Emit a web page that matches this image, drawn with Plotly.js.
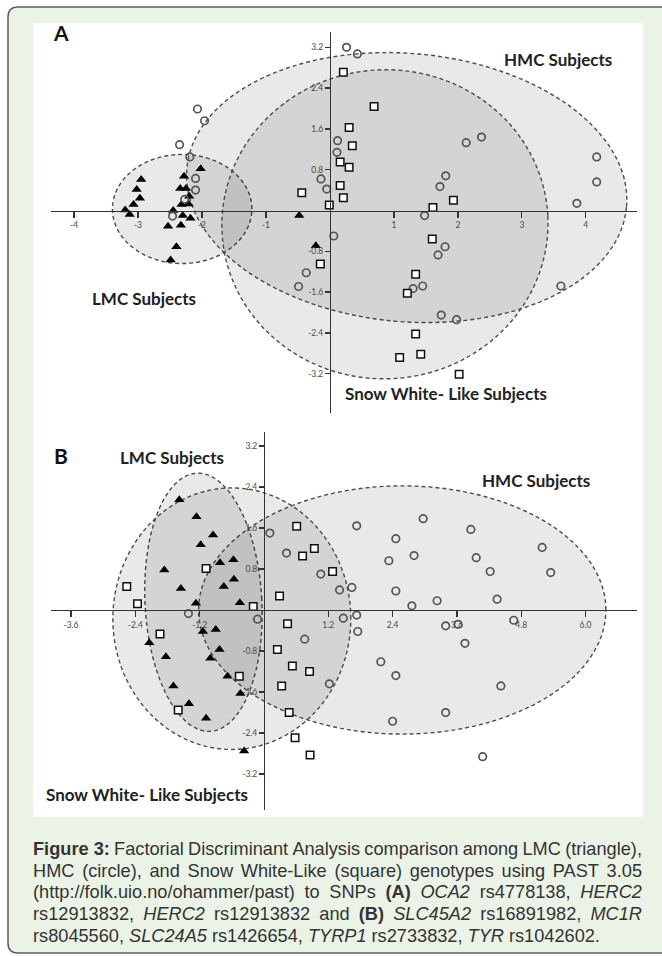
<!DOCTYPE html>
<html><head><meta charset="utf-8">
<script src="https://cdn.plot.ly/plotly-3.0.1.min.js"></script>
<style>
html,body{margin:0;padding:0;background:#fff;}
#wrap{position:relative;width:662px;height:956px;overflow:hidden;}
#chart{position:absolute;left:0;top:0;width:662px;height:956px;}
#cap{position:absolute;left:33px;top:839px;width:609px;font-family:"Liberation Sans",Arial,sans-serif;font-size:18.2px;line-height:21.7px;color:#333;}
#cap .ln{display:flex;justify-content:space-between;column-gap:3px;white-space:nowrap;}
#cap .ln.last{justify-content:flex-start;column-gap:5px;}
</style></head>
<body><div id="wrap"><div id="chart"></div><div id="cap"></div></div>
<script>
// ---------- Panel A data (OCA2/HERC2 SNPs) ----------
const aLmcX = [-2.95,-3.02,-2.97,-3.07,-3.20,-3.13,-2.02,-2.28,-2.34,-2.25,-2.20,-2.32,-2.21,-2.45,-2.30,-2.18,-2.53,-2.33,-2.40,-2.49,-0.48,-0.22];
const aLmcY = [0.61,0.41,0.24,0.12,0.01,-0.08,0.82,0.67,0.43,0.43,0.28,0.12,0.13,0.00,-0.10,-0.15,-0.31,-0.29,-0.71,-0.97,-0.10,-0.69];
const aHmcX = [0.26,0.43,0.12,0.11,-0.14,-0.05,2.13,2.37,1.81,1.72,4.17,4.17,3.86,1.48,0.06,1.80,1.69,-0.37,1.30,1.45,3.61,1.74,1.98,-0.49,-2.07,-1.96,-2.35,-2.19,-2.10,-2.10,-2.46,-2.27];
const aHmcY = [3.20,3.07,1.37,1.14,0.62,0.42,1.33,1.44,0.68,0.47,1.05,0.56,0.14,-0.10,-0.50,-0.71,-0.87,-1.22,-1.53,-1.48,-1.48,-2.05,-2.14,-1.49,1.99,1.76,1.29,1.05,0.63,0.40,-0.11,0.22];
const aSwX = [0.21,0.69,0.30,0.35,0.16,0.30,0.16,0.21,-0.01,1.61,1.93,1.60,-0.15,1.34,1.21,1.34,1.09,1.42,2.02,-0.44];
const aSwY = [2.71,2.04,1.63,1.27,0.95,0.85,0.49,0.25,0.11,0.06,0.20,-0.56,-1.05,-1.25,-1.62,-2.42,-2.88,-2.82,-3.21,0.35];

// ---------- Panel B data ----------
const bLmcX = [-1.58,-1.26,-0.95,-1.18,-1.86,-0.82,-0.57,-1.55,-0.75,-0.56,-1.27,-0.45,-1.14,-0.90,-2.14,-1.83,-0.83,-1.00,-0.68,-1.69,-0.44,-1.40,-1.08,-0.37];
const bLmcY = [2.15,1.82,1.46,1.27,0.78,0.92,0.98,0.42,0.46,0.60,0.13,0.14,-0.42,-0.38,-0.64,-0.91,-0.77,-0.94,-1.29,-1.48,-1.63,-1.83,-2.11,-2.75];
const bHmcX = [0.11,0.42,1.06,1.41,1.64,1.73,1.48,1.73,1.75,0.76,1.22,-1.41,-0.12,2.46,2.97,2.33,2.80,2.46,2.76,3.23,3.39,3.86,3.96,4.22,4.35,4.66,5.19,5.35,3.75,2.18,2.46,4.42,3.39,2.40,4.08,3.62];
const bHmcY = [1.50,1.11,0.70,0.39,0.44,1.64,-0.16,-0.10,-0.42,-0.57,-1.44,-0.07,-0.18,1.39,1.78,0.96,1.06,0.37,0.08,0.18,-0.31,1.57,1.02,0.75,0.21,-0.20,1.22,0.73,-0.65,-1.01,-1.28,-1.48,-2.00,-2.17,-2.86,-0.28];
const bSwX = [0.61,0.72,0.94,1.28,0.29,-1.08,-2.56,-2.36,-0.20,0.44,-1.94,0.25,0.53,0.85,0.33,-0.46,-1.60,0.47,0.58,0.86];
const bSwY = [1.63,1.05,1.20,0.75,0.27,0.81,0.46,0.12,0.07,-0.27,-0.47,-0.77,-1.09,-1.20,-1.48,-1.29,-1.95,-2.00,-2.49,-2.83];

// ---------- confidence ellipses (order: LMC, HMC, Snow White) ----------
const ellACx = [-2.31, 1.20, 0.86];
const ellACy = [0.03, 0.45, -0.27];
const ellARx = [1.09, 3.45, 2.55];
const ellARy = [1.07, 2.63, 3.03];
const ellATilt = [0, -5, 3];
const ellBCx = [-1.13, 2.58, -0.60];
const ellBCy = [0.15, 0.00, -0.17];
const ellBRx = [1.09, 3.80, 2.22];
const ellBRy = [2.52, 2.42, 2.55];
const ellBTilt = [3, 0, 0];

// ---------- ticks ----------
const aXTicks = [-4,-3,-2,-1,1,2,3,4];
const aXText = ['-4','-3','-2','-1','1','2','3','4'];
const yTicks = [-3.2,-2.4,-1.6,-0.8,0.8,1.6,2.4,3.2];
const yText = ['-3.2','-2.4','-1.6','-0.8','0.8','1.6','2.4','3.2'];
const bXTicks = [-3.6,-2.4,-1.2,1.2,2.4,3.6,4.8,6.0];
const bXText = ['-3.6','-2.4','-1.2','1.2','2.4','3.6','4.8','6.0'];

// ---------- layout geometry ----------
const W = 662, H = 956;
const PX = v => v / W, PY = v => 1 - v / H;
const xDom = [PX(51), PX(637)];
const yDomA = [PY(413), PY(32)];
const yDomB = [PY(810), PY(432)];
const xrA = [-4.36, 4.80], yrA = [-3.97, 3.50];
const xrB = [-3.974, 6.96], yrB = [-3.90, 3.47];
const zeroPos = (r, d) => d[0] + (0 - r[0]) / (r[1] - r[0]) * (d[1] - d[0]);

function ellipsePath(cx, cy, rx, ry, tilt, xr, yr, xd, yd) {
  const sx = (xd[1]-xd[0]) * W / (xr[1]-xr[0]);
  const sy = (yd[1]-yd[0]) * H / (yr[1]-yr[0]);
  const a = rx * sx, b = ry * sy, ph = tilt * Math.PI / 180;
  let d = '';
  for (let i = 0; i <= 144; i++) {
    const t = 2 * Math.PI * i / 144;
    const u = a * Math.cos(t), v = b * Math.sin(t);
    const X = cx + (u * Math.cos(ph) - v * Math.sin(ph)) / sx;
    const Y = cy + (u * Math.sin(ph) + v * Math.cos(ph)) / sy;
    d += (i ? 'L' : 'M') + X.toFixed(4) + ',' + Y.toFixed(4);
  }
  return d + 'Z';
}
function roundRect(x0, y0, x1, y1, r) {
  const p = (x, y) => PX(x).toFixed(5) + ',' + PY(y).toFixed(5);
  return 'M' + p(x0 + r, y0) + 'L' + p(x1 - r, y0) + 'Q' + p(x1, y0) + ' ' + p(x1, y0 + r) +
    'L' + p(x1, y1 - r) + 'Q' + p(x1, y1) + ' ' + p(x1 - r, y1) + 'L' + p(x0 + r, y1) +
    'Q' + p(x0, y1) + ' ' + p(x0, y1 - r) + 'L' + p(x0, y0 + r) + 'Q' + p(x0, y0) + ' ' + p(x0 + r, y0) + 'Z';
}

const shapes = [
  {type:'path', xref:'paper', yref:'paper', layer:'below', path: roundRect(8, 7, 720, 953, 10),
   fillcolor:'#eaf3e6', line:{color:'#5c5c5c', width:1.5}},
  {type:'rect', xref:'paper', yref:'paper', layer:'below', x0:PX(33), x1:PX(643), y0:PY(817), y1:PY(23),
   fillcolor:'#ffffff', line:{width:0}}
];
const ellStyle = {fillcolor:'rgba(0,0,0,0.085)', line:{color:'#4d4d4d', width:1.4, dash:'4px,3px'}};
for (let i = 0; i < 3; i++) {
  shapes.push(Object.assign({type:'path', xref:'x', yref:'y', layer:'below',
    path: ellipsePath(ellACx[i], ellACy[i], ellARx[i], ellARy[i], ellATilt[i], xrA, yrA, xDom, yDomA)}, ellStyle));
  shapes.push(Object.assign({type:'path', xref:'x2', yref:'y2', layer:'below',
    path: ellipsePath(ellBCx[i], ellBCy[i], ellBRx[i], ellBRy[i], ellBTilt[i], xrB, yrB, xDom, yDomB)}, ellStyle));
}

const tickFont = {family:'Lato, "DejaVu Sans", sans-serif', size:8.5, color:'#4a4a4a'};
function ax(extra) {
  return Object.assign({showgrid:false, zeroline:false, showline:true, linecolor:'#333', linewidth:1.5,
    ticks:'outside', ticklen:6, tickwidth:1.3, tickcolor:'#333', tickfont:tickFont, fixedrange:true}, extra);
}

const circ = {symbol:'circle-open', size:7.5, color:'#555', line:{color:'#555', width:1.7}};
const sq = {symbol:'square', size:7.5, color:'#ffffff', line:{color:'#111', width:1.5}};
const tri = {symbol:'triangle-up', size:9, color:'#000', line:{width:0}};

const data = [
  {x:aLmcX, y:aLmcY, xaxis:'x', yaxis:'y', mode:'markers', type:'scatter', marker:tri, name:'LMC'},
  {x:aHmcX, y:aHmcY, xaxis:'x', yaxis:'y', mode:'markers', type:'scatter', marker:circ, name:'HMC'},
  {x:aSwX, y:aSwY, xaxis:'x', yaxis:'y', mode:'markers', type:'scatter', marker:sq, name:'Snow White-Like'},
  {x:bLmcX, y:bLmcY, xaxis:'x2', yaxis:'y2', mode:'markers', type:'scatter', marker:tri, name:'LMC'},
  {x:bHmcX, y:bHmcY, xaxis:'x2', yaxis:'y2', mode:'markers', type:'scatter', marker:circ, name:'HMC'},
  {x:bSwX, y:bSwY, xaxis:'x2', yaxis:'y2', mode:'markers', type:'scatter', marker:sq, name:'Snow White-Like'}
];

const lblFont = {family:'Lato, "Open Sans", sans-serif', size:17, color:'#222'};
const letFont = {family:'Lato, "Open Sans", sans-serif', size:21, color:'#111'};
function lbl(t, x, y, f) {
  return {text:'<b>' + t + '</b>', xref:'paper', yref:'paper', x:PX(x), y:PY(y),
    xanchor:'center', yanchor:'middle', showarrow:false, font:f || lblFont};
}
const annotations = [
  lbl('A', 61, 33, letFont),
  lbl('HMC Subjects', 558, 59),
  lbl('LMC Subjects', 144, 298),
  lbl('Snow White- Like Subjects', 446, 393),
  lbl('B', 61, 455, letFont),
  lbl('LMC Subjects', 172, 457),
  lbl('HMC Subjects', 536, 481),
  lbl('Snow White- Like Subjects', 147, 794)
];

const layout = {
  width:W, height:H, margin:{l:0, r:0, t:0, b:0}, showlegend:false,
  paper_bgcolor:'#ffffff', plot_bgcolor:'rgba(0,0,0,0)',
  xaxis: ax({domain:xDom, range:xrA, anchor:'free', position:zeroPos(yrA, yDomA), tickvals:aXTicks, ticktext:aXText}),
  yaxis: ax({domain:yDomA, range:yrA, anchor:'free', position:zeroPos(xrA, xDom), tickvals:yTicks, ticktext:yText, ticklen:5}),
  xaxis2: ax({domain:xDom, range:xrB, anchor:'free', position:zeroPos(yrB, yDomB), tickvals:bXTicks, ticktext:bXText}),
  yaxis2: ax({domain:yDomB, range:yrB, anchor:'free', position:zeroPos(xrB, xDom), tickvals:yTicks, ticktext:yText, ticklen:5}),
  shapes: shapes, annotations: annotations
};
Plotly.newPlot('chart', data, layout, {staticPlot:true, displayModeBar:false});

// ---------- caption ----------
const capLines = [
  ['<b>Figure&nbsp;3:</b>','Factorial','Discriminant','Analysis','comparison','among','LMC','(triangle),'],
  ['HMC','(circle),','and','Snow','White-Like','(square)','genotypes','using','PAST','3.05'],
  ['(http://folk.uio.no/ohammer/past)','to','SNPs','<b>(A)</b>','<i>OCA2</i>','rs4778138,','<i>HERC2</i>'],
  ['rs12913832,','<i>HERC2</i>','rs12913832','and','<b>(B)</b>','<i>SLC45A2</i>','rs16891982,','<i>MC1R</i>'],
  ['rs8045560,','<i>SLC24A5</i>','rs1426654,','<i>TYRP1</i>','rs2733832,','<i>TYR</i>','rs1042602.']
];
const cap = document.getElementById('cap');
capLines.forEach((ws, i) => {
  const d = document.createElement('div');
  d.className = 'ln' + (i === capLines.length - 1 ? ' last' : '');
  d.innerHTML = ws.map(w => '<span>' + w + '</span>').join('');
  cap.appendChild(d);
});
</script></body></html>
